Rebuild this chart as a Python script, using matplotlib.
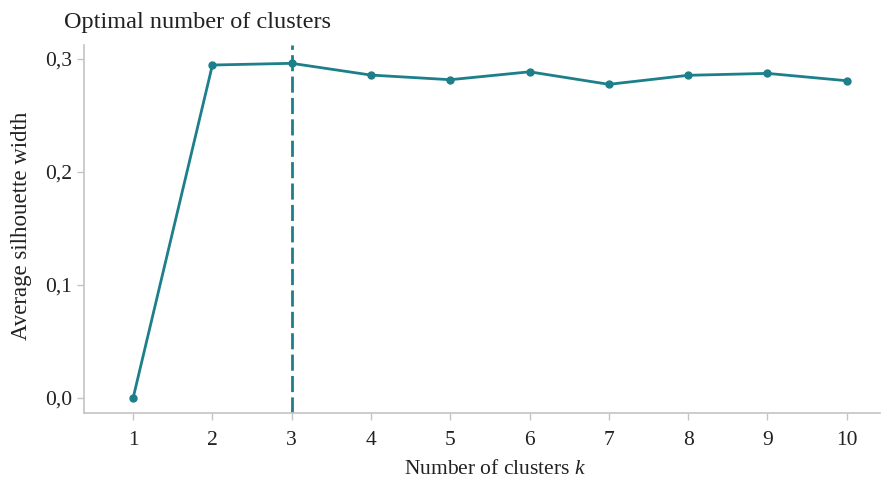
import matplotlib
matplotlib.use("Agg")
import matplotlib.pyplot as plt
from matplotlib.ticker import FuncFormatter

plt.rcParams['font.family'] = ['Liberation Serif', 'DejaVu Serif']
plt.rcParams['mathtext.fontset'] = 'custom'
plt.rcParams['mathtext.it'] = 'Liberation Serif:italic'
plt.rcParams['mathtext.rm'] = 'Liberation Serif'

k_values = [1, 2, 3, 4, 5, 6, 7, 8, 9, 10]
silhouette = [0.0, 0.2947, 0.2962, 0.2858, 0.2817, 0.2887, 0.2776, 0.2856, 0.2873, 0.2808]
optimal_k = 3
y_ticks = [0.0, 0.1, 0.2, 0.3]

teal = '#1d7f8a'
grey = '#c4c4c4'
text_col = '#222222'

fig = plt.figure(figsize=(8.82, 4.79), dpi=100)
ax = fig.add_axes([0.0952, 0.1378, 0.9025, 0.7682])

ax.plot(k_values, silhouette, color=teal, lw=2, marker='o', ms=5, zorder=3)
ax.axvline(optimal_k, color=teal, lw=2, ls=(0, (5.8, 1.9)), zorder=2)

ax.set_xlim(0.38, 10.42)
ax.set_ylim(-0.0133, 0.3124)
ax.set_xticks(k_values)
ax.set_yticks(y_ticks)
ax.yaxis.set_major_formatter(FuncFormatter(lambda v, p: f"{v:.1f}".replace('.', ',')))

for s in ['top', 'right']:
    ax.spines[s].set_visible(False)
for s in ['left', 'bottom']:
    ax.spines[s].set_color(grey)
    ax.spines[s].set_linewidth(1.2)
ax.tick_params(colors=grey, labelcolor=text_col, labelsize=15.5, length=5, width=1)
ax.tick_params(axis='x', pad=8)

ax.set_xlabel('Number of clusters $k$', fontsize=15.5, color=text_col)
ax.xaxis.set_label_coords(0.516, -0.127)
ax.set_ylabel('Average silhouette width', fontsize=16.5, color=text_col)
ax.yaxis.set_label_coords(-0.0655, 0.509)
fig.text(0.072, 0.953, 'Optimal number of clusters', fontsize=17.5, color=text_col,
         ha='left', va='center')

fig.savefig('out.png', dpi=100)
